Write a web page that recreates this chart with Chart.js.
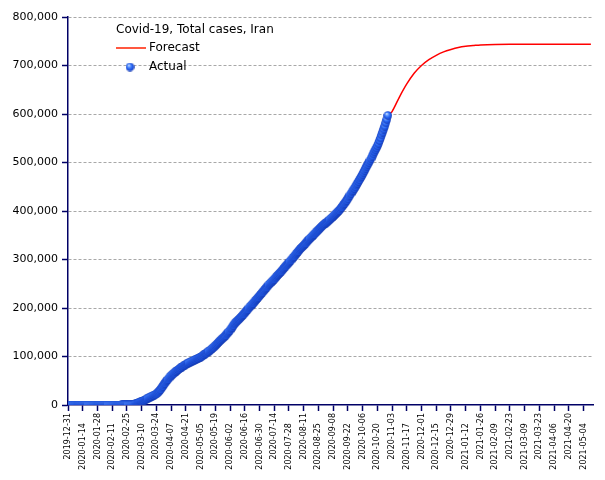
<!DOCTYPE html>
<html>
<head>
<meta charset="utf-8">
<title>Covid-19, Total cases, Iran</title>
<script src="https://cdn.jsdelivr.net/npm/chart.js@4/dist/chart.umd.min.js"></script>
<style>
    body { margin: 0; background: #fff; }
    canvas { display: block; }
</style>
</head>
<body>
<canvas id="chart" width="605" height="480"></canvas>
<script>
// Data
const startDate = '2019-12-31';
const chartTitle = 'Covid-19, Total cases, Iran';
const seriesNames = ['Forecast', 'Actual'];

// daily totals, one per day from startDate
const actualCases = [
    0, 0, 0, 0, 0, 0, 0, 0, 0, 0, 0, 0, 0, 0, 0, 0, 0, 0, 0, 0, 0, 0, 0, 0, 0,
    0, 0, 0, 0, 0, 0, 0, 0, 0, 0, 0, 0, 0, 0, 0, 0, 0, 0, 0, 0, 0, 0, 0, 0, 0, 0,
    2, 5, 18, 28, 43, 61, 95, 139, 245, 388, 593,
    978, 1501, 2336, 2922, 3513, 4747, 5823, 6566, 7161, 8042, 9000, 10075, 11364, 12729, 13938,
    14991, 16169, 17361, 18407, 19644, 20610, 21638, 23049, 24811, 27017, 29406, 32332, 35408, 38309, 41495, 44605,
    47593, 50468, 53183, 55743, 58226, 60500, 62589, 64586, 66220, 68192, 70029, 71686, 73303, 74877, 76389,
    77995, 79494, 80868, 82211, 83505, 84802, 85996, 87026, 88194, 89328, 90481, 91472, 92584, 93657, 94640,
    95646, 96448, 97424, 98647, 99970, 101650, 103135, 104691, 106220, 107603, 109286, 110767, 112725, 114533, 116635,
    118392, 120198, 122492, 124603, 126949, 129341, 131652, 133521, 135701, 137724, 139511, 141591, 143849, 146668, 148950, 151466,
    154445, 157562, 160696, 164270, 167156, 169425, 171789, 173832, 175927, 177938, 180156, 182525, 184955, 187427, 189876,
    192439, 195051, 197647, 200262, 202584, 204952, 207525, 209970, 212501, 215096, 217724, 220180, 222669, 225205, 227662,
    230211, 232863, 235429, 237878, 240438, 243051, 245688, 248379, 250458, 252720, 255117, 257303, 259652, 262173, 264561,
    267061, 269440, 271606, 273788, 276202, 278827, 281413, 284034, 286523, 288839, 291172, 293606, 296273, 298909, 301530, 304204,
    306752, 309437, 312035, 314786, 317483, 320117, 322567, 324692, 326712, 328844, 331189, 333699, 336324, 338825, 341070,
    343203, 345450, 347835, 350279, 352558, 354764, 356792, 358905, 361150, 363363, 365606, 367796, 369911, 371816, 373570, 375212,
    376894, 378752, 380746, 382772, 384666, 386658, 388810, 391112, 393425, 395488, 397801, 399940, 402029, 404648, 407353,
    410334, 413149, 416198, 419043, 422140, 425481, 429193, 432798, 436319, 439882, 443086, 446448, 449960, 453637, 457219,
    461044, 464596, 468119, 471772, 475674, 479825, 483844, 488236, 492378, 496253, 500075, 504281, 508389, 513219, 518086,
    522387, 526490, 530380, 534631, 539670, 545286, 550757, 556891, 562705, 568896, 574856, 581824, 588648, 596941
];

const forecastDates = [
    '2020-02-20', '2020-03-01', '2020-03-10', '2020-03-20', '2020-03-31', '2020-04-10', '2020-04-20',
    '2020-05-01', '2020-05-15', '2020-06-01', '2020-06-15', '2020-07-01', '2020-07-15', '2020-08-01',
    '2020-08-15', '2020-09-01', '2020-09-15', '2020-10-01', '2020-10-15', '2020-10-30', '2020-11-03',
    '2020-11-10', '2020-11-17', '2020-11-24', '2020-12-01', '2020-12-08', '2020-12-15', '2020-12-22',
    '2020-12-29', '2021-01-05', '2021-01-12', '2021-01-19', '2021-01-26', '2021-02-09', '2021-03-09',
    '2021-05-11'
];
const forecastValues = [
    0, 500, 7500, 19000, 43000, 67000, 83000,
    95000, 115000, 150000, 188000, 228000, 262000, 305000,
    340000, 376000, 406000, 458000, 516000, 597000, 605000,
    635000, 662000, 684000, 700000, 712000, 721000, 728000,
    733000, 737000, 739500, 741000, 742500, 743500, 744000,
    744000
];

const xTickStep = 14;      // days between date labels
const xLastDay = 499;      // 2021-05-13
const yTickStep = 100000;
const yMax = 800000;

const DAY = 86400000;
const t0 = Date.parse(startDate);
const dayIndex = d => Math.round((Date.parse(d) - t0) / DAY);
const dayLabel = i => new Date(t0 + i * DAY).toISOString().slice(0, 10);

// blue sphere marker
function makeSphere(size) {
    const c = document.createElement('canvas');
    c.width = size;
    c.height = size;
    const g = c.getContext('2d');
    const r = size / 2;
    const grad = g.createRadialGradient(r * 0.7, r * 0.6, 0.2, r, r, r);
    grad.addColorStop(0, '#e4eeff');
    grad.addColorStop(0.25, '#6ea2ff');
    grad.addColorStop(0.55, '#2c6af4');
    grad.addColorStop(0.85, '#1a4ad4');
    grad.addColorStop(1, '#10309c');
    g.fillStyle = grad;
    g.beginPath();
    g.arc(r, r, r - 0.2, 0, Math.PI * 2);
    g.fill();
    return c;
}
const sphere = makeSphere(9);

const font = "'DejaVu Sans', Verdana, sans-serif";
const axisColor = '#000066';

// legend drawn inside the plot, top left
const legendPlugin = {
    id: 'insideLegend',
    beforeDatasetsDraw(chart) {
        const ctx = chart.ctx;
        const x = chart.chartArea.left + 48;
        ctx.save();
        ctx.font = '12px ' + font;
        ctx.fillStyle = '#000';
        ctx.textBaseline = 'middle';
        ctx.fillText(chartTitle, x, 30);
        ctx.fillText(seriesNames[0], x + 33, 48);
        ctx.fillText(seriesNames[1], x + 33, 67);
        ctx.strokeStyle = '#ff2000';
        ctx.lineWidth = 1.5;
        ctx.beginPath();
        ctx.moveTo(x, 48);
        ctx.lineTo(x + 30, 48);
        ctx.stroke();
        ctx.drawImage(sphere, x + 14 - 4.5, 67 - 4.5);
        ctx.restore();
    }
};

new Chart(document.getElementById('chart'), {
    type: 'line',
    data: {
        datasets: [{
            label: seriesNames[0],
            data: forecastDates.map((d, i) => ({ x: dayIndex(d), y: forecastValues[i] })),
            borderColor: '#ff0000',
            borderWidth: 1.5,
            pointRadius: 0,
            fill: false,
            tension: 0.3,
            order: 2
        }, {
            label: seriesNames[1],
            data: actualCases.map((v, i) => ({ x: i, y: v })),
            showLine: false,
            pointStyle: sphere,
            pointRadius: 4.5,
            order: 1
        }]
    },
    options: {
        responsive: false,
        animation: false,
        layout: {
            padding: { top: 17, right: 12, bottom: 0, left: 0 }
        },
        plugins: {
            legend: { display: false },
            tooltip: { enabled: false }
        },
        scales: {
            x: {
                type: 'linear',
                min: 0,
                max: xLastDay,
                afterFit(scale) { scale.height = 75; },
                afterBuildTicks(scale) {
                    const ticks = [];
                    for (let d = 0; d <= xLastDay; d += xTickStep) ticks.push({ value: d });
                    scale.ticks = ticks;
                },
                grid: {
                    drawOnChartArea: false,
                    tickLength: 6,
                    tickColor: axisColor,
                    tickWidth: 1.5
                },
                border: { color: axisColor, width: 1.5 },
                ticks: {
                    autoSkip: false,
                    minRotation: 90,
                    maxRotation: 90,
                    padding: 2,
                    color: '#000',
                    font: { family: font, size: 8 },
                    // every second label sits a little lower
                    callback: value => dayLabel(value) + ((value / xTickStep) % 2 ? '    ' : '')
                }
            },
            y: {
                min: 0,
                max: yMax,
                afterFit(scale) { scale.width = 68; },
                grid: {
                    color: ctx => ctx.tick && ctx.tick.value === 0 ? 'rgba(0,0,0,0)' : '#a8a8a8',
                    lineWidth: 1,
                    tickLength: 6,
                    tickColor: axisColor,
                    tickWidth: 1.5,
                    tickBorderDash: []
                },
                border: { color: axisColor, width: 1.5, dash: [3, 2] },
                ticks: {
                    stepSize: yTickStep,
                    padding: 4,
                    color: '#000',
                    font: { family: font, size: 11 },
                    callback: value => value.toLocaleString('en-US')
                }
            }
        }
    },
    plugins: [legendPlugin]
});
</script>
</body>
</html>
